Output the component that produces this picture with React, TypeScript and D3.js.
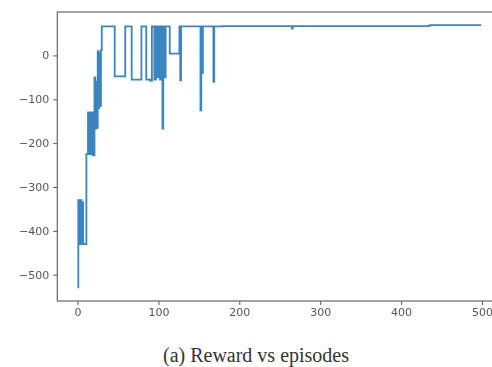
import React, { useEffect, useRef } from "react";
import * as d3 from "d3";

// change points of the reward curve (step after)
const episodes = [
  0, 1, 3, 4, 5, 6, 7, 11, 13, 14, 15, 17, 18, 19, 21, 22, 23, 24, 25, 26, 27, 28, 29, 30,
  46, 59, 67, 79, 85, 90, 92, 95, 97, 99, 100, 102, 103, 105, 106, 108, 109,
  114, 126, 127, 128, 152, 153, 154, 155, 168, 169, 180,
  265, 266, 435, 499,
];
const rewards = [
  -529, -330, -430, -330, -430, -335, -430, -225, -130, -225, -130, -225, -130, -228, -50,
  -167, -60, -165, 10, -120, 5, -115, 12, 66,
  -48, 66, -55, 66, -55, -58, 66, -55, 66, -50, 66, -55, 66, -167, 66, -50, 66,
  4, 66, -57, 66, -125, 66, -40, 66, -60, 66, 67,
  61, 67, 69, 69,
];
const xTicks = [0, 100, 200, 300, 400, 500];
const yTicks = [-500, -400, -300, -200, -100, 0];
const caption = "(a) Reward vs episodes";

export default function App() {
  const ref = useRef<SVGSVGElement>(null);

  useEffect(() => {
    const svg = d3.select(ref.current);
    svg.selectAll("*").remove();

    const left = 57.3, right = 501.4, top = 12, bottom = 301;
    const x = d3.scaleLinear().domain([-24.95, 523.95]).range([left, right]);
    const y = d3.scaleLinear().domain([-560, 99]).range([bottom, top]);

    const data = episodes.map((e, i) => ({ e, r: rewards[i] }));

    svg.append("defs").append("filter").attr("id", "soft")
      .append("feGaussianBlur").attr("stdDeviation", 0.6);

    const g = svg.append("g").attr("filter", "url(#soft)");

    g.append("path")
      .datum(data)
      .attr("fill", "none")
      .attr("stroke", "#3a84c0")
      .attr("stroke-width", 1.8)
      .attr("d", d3.line<{ e: number; r: number }>()
        .x(d => x(d.e))
        .y(d => y(d.r))
        .curve(d3.curveStepAfter));

    const xAxis = g.append("g")
      .attr("transform", `translate(0, ${bottom})`)
      .call(d3.axisBottom(x).tickValues(xTicks).tickSize(4).tickPadding(3));
    const yAxis = g.append("g")
      .attr("transform", `translate(${left}, 0)`)
      .call(d3.axisLeft(y).tickValues(yTicks).tickSize(4).tickPadding(4).tickFormat(d3.format("d")));

    [xAxis, yAxis].forEach(a => {
      a.select(".domain").remove();
      a.selectAll("line").attr("stroke", "#555");
      a.selectAll("text")
        .attr("fill", "#555")
        .style("font-family", "'DejaVu Sans', sans-serif")
        .style("font-size", "11px");
    });

    // frame
    g.append("rect")
      .attr("x", left).attr("y", top)
      .attr("width", right - left).attr("height", bottom - top)
      .attr("fill", "none").attr("stroke", "#666").attr("stroke-width", 1.2);

    svg.append("text")
      .attr("x", 256).attr("y", 362)
      .attr("text-anchor", "middle")
      .attr("fill", "#333")
      .style("font-family", "'Liberation Serif', 'Times New Roman', serif")
      .style("font-size", "20px")
      .text(caption);
  }, []);

  return (
    <svg ref={ref} width={492} height={367}
      style={{ position: "absolute", left: 0, top: 0, background: "#fff" }} />
  );
}
